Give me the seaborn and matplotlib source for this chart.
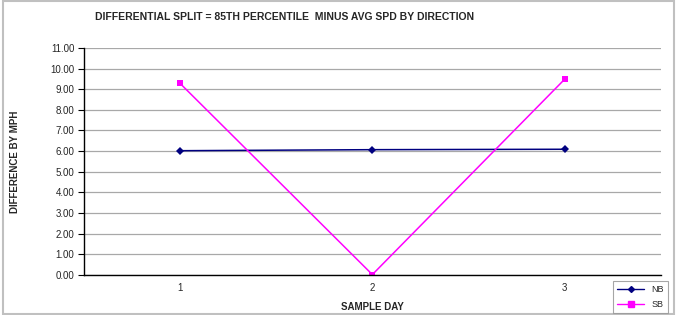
import pandas as pd
import numpy as np
import matplotlib
matplotlib.use("Agg")
import matplotlib.pyplot as plt
import seaborn as sns
from matplotlib.patches import Rectangle
from matplotlib.lines import Line2D

# Datos
dias = [1, 2, 3]
nb = [6.02, 6.07, 6.09]
sb = [9.28, 0.02, 9.48]
y_ticks = np.arange(0, 11.01, 1.0)

df = pd.DataFrame({
    "dia": dias * 2,
    "valor": nb + sb,
    "serie": ["NB"] * 3 + ["SB"] * 3,
})

sns.set_style("white")
plt.rcParams["font.family"] = ["Liberation Sans", "DejaVu Sans"]

fig = plt.figure(figsize=(6.77, 3.15), dpi=100)
ax = fig.add_axes([0.124, 0.127, 0.852, 0.721])

sns.lineplot(data=df, x="dia", y="valor", hue="serie", style="serie",
             palette={"NB": "#000080", "SB": "#FF00FF"},
             markers={"NB": "D", "SB": "s"}, dashes=False,
             markersize=4.5, linewidth=1.1, markeredgewidth=0, ax=ax, legend=False)

ax.set_xlim(0.5, 3.5)
ax.set_ylim(0, 11)
ax.set_xticks(dias)
ax.set_xticklabels([str(d) for d in dias], fontsize=7)
ax.set_yticks(y_ticks)
ax.set_yticklabels([f"{v:.2f}" for v in y_ticks], fontsize=7)
ax.tick_params(axis="y", length=4, width=0.8, color="black", left=True, pad=3)
ax.tick_params(axis="x", length=0, pad=6)
ax.yaxis.grid(True, color="#a8a8a8", linewidth=0.9)
ax.set_axisbelow(True)
for s in ["top", "right"]:
    ax.spines[s].set_visible(False)
for s in ["left", "bottom"]:
    ax.spines[s].set_color("black")
    ax.spines[s].set_linewidth(1.0)

ax.set_xlabel("SAMPLE DAY", fontsize=7, fontweight="bold", labelpad=6)
ax.set_ylabel("DIFFERENCE BY MPH", fontsize=7, fontweight="bold", labelpad=22)
fig.text(0.14, 0.945, "DIFFERENTIAL SPLIT = 85TH PERCENTILE  MINUS AVG SPD BY DIRECTION",
         fontsize=7.5, fontweight="bold", ha="left", va="center")

# Leyenda manual
handles = [Line2D([], [], color="#000080", marker="D", markersize=3, lw=1),
           Line2D([], [], color="#FF00FF", marker="s", markersize=4.5, lw=1)]
leg = fig.legend(handles, ["NB", "SB"], loc="lower right",
                 bbox_to_anchor=(0.99, 0.0), fontsize=6.5, frameon=True,
                 fancybox=False, edgecolor="#909090", handlelength=3,
                 borderpad=0.5, labelspacing=0.6, borderaxespad=0.2)
leg.get_frame().set_linewidth(0.8)

# Marco gris de la figura
fig.patches.append(Rectangle((0.004, 0.003), 0.992, 0.994, transform=fig.transFigure,
                             fill=False, edgecolor="#c0c0c0", linewidth=1.5))

fig.savefig("out.png", dpi=100)
